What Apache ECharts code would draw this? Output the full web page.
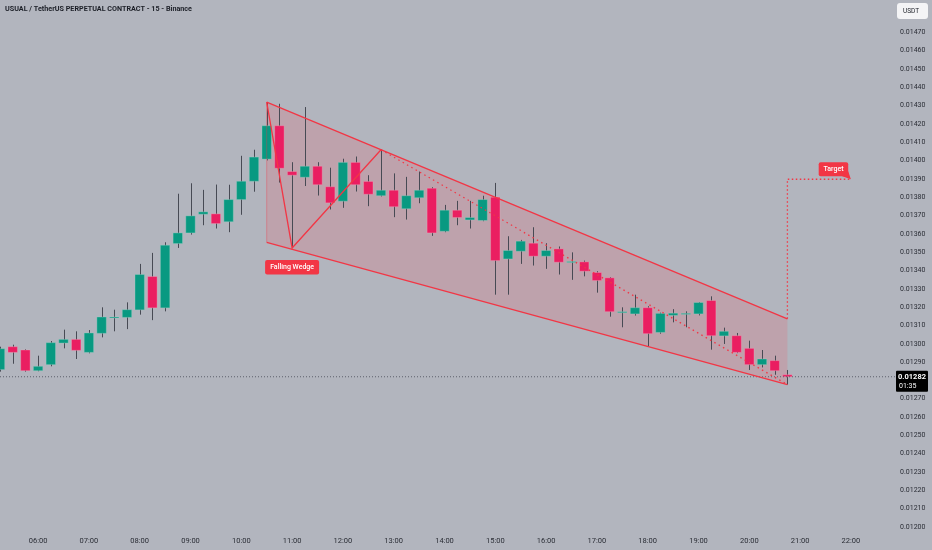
<!DOCTYPE html>
<html><head><meta charset="utf-8">
<script src="https://cdn.jsdelivr.net/npm/echarts@6/dist/echarts.min.js"></script>
<style>html,body{margin:0;padding:0;background:#b2b5be}#c{width:932px;height:550px}</style>
</head><body><div id="c"></div>
<script>
// 15-minute candles, USUAL/USDT perpetual
const times = ['05:15','05:30','05:45',
 '06:00','06:15','06:30','06:45','07:00','07:15','07:30','07:45',
 '08:00','08:15','08:30','08:45','09:00','09:15','09:30','09:45',
 '10:00','10:15','10:30','10:45','11:00','11:15','11:30','11:45',
 '12:00','12:15','12:30','12:45','13:00','13:15','13:30','13:45',
 '14:00','14:15','14:30','14:45','15:00','15:15','15:30','15:45',
 '16:00','16:15','16:30','16:45','17:00','17:15','17:30','17:45',
 '18:00','18:15','18:30','18:45','19:00','19:15','19:30','19:45',
 '20:00','20:15','20:30','20:45','21:00','21:15','21:30','21:45',
 '22:00','22:15','22:30','22:45'];
const opens = [0.012859,0.012984,0.012966,0.012853,0.012886,0.013004,0.013024,0.012953,0.013057,0.013144,
 0.013144,0.013185,0.013367,0.013196,0.013547,0.013605,0.013707,0.013709,0.013666,0.013787,
 0.013887,0.014008,0.014190,0.013940,0.013909,0.013969,0.013857,0.013778,0.013990,0.013886,
 0.013808,0.013838,0.013737,0.013797,0.013849,0.013614,0.013729,0.013676,0.013673,0.013800,
 0.013463,0.013505,0.013549,0.013478,0.013518,0.013447,0.013447,0.013389,0.013360,0.013174,
 0.013163,0.013197,0.013062,0.013155,0.013165,0.013163,0.013236,0.013043,0.013044,0.012975,
 0.012886,0.012908,0.012831];
const closes = [0.012973,0.012953,0.012853,0.012877,0.013006,0.013024,0.012964,0.013059,0.013146,0.013146,
 0.013186,0.013378,0.013196,0.013538,0.013605,0.013698,0.013720,0.013656,0.013787,0.013887,
 0.014019,0.014190,0.013958,0.013920,0.013969,0.013868,0.013769,0.013990,0.013868,0.013816,
 0.013838,0.013748,0.013808,0.013838,0.013605,0.013729,0.013689,0.013689,0.013787,0.013454,
 0.013509,0.013560,0.013478,0.013509,0.013445,0.013449,0.013396,0.013345,0.013175,0.013175,
 0.013197,0.013055,0.013166,0.013167,0.013166,0.013225,0.013044,0.013068,0.012953,0.012886,
 0.012917,0.012853,0.012820];
const highs = [0.012984,0.012995,0.012970,0.012935,0.013015,0.013077,0.013068,0.013075,0.013199,0.013186,
 0.013226,0.013436,0.013496,0.013554,0.013819,0.013876,0.013840,0.013869,0.013868,0.014026,
 0.014059,0.014319,0.014310,0.013991,0.014292,0.013991,0.013961,0.014010,0.014022,0.013920,
 0.014059,0.013930,0.013911,0.013940,0.013855,0.013758,0.013780,0.013780,0.013808,0.013878,
 0.013587,0.013567,0.013636,0.013549,0.013531,0.013499,0.013454,0.013396,0.013364,0.013199,
 0.013268,0.013205,0.013170,0.013189,0.013177,0.013228,0.013259,0.013088,0.013059,0.013017,
 0.012966,0.012935,0.012857];
const lows = [0.012848,0.012891,0.012848,0.012850,0.012877,0.012975,0.012917,0.012948,0.013035,0.013068,
 0.013080,0.013159,0.013129,0.013177,0.013523,0.013596,0.013647,0.013629,0.013609,0.013704,
 0.013830,0.014001,0.013880,0.013523,0.013861,0.013809,0.013733,0.013742,0.013831,0.013751,
 0.013804,0.013691,0.013678,0.013767,0.013589,0.013609,0.013647,0.013629,0.013669,0.013268,
 0.013268,0.013436,0.013427,0.013409,0.013378,0.013349,0.013368,0.013279,0.013148,0.013090,
 0.013154,0.012984,0.013055,0.013117,0.013090,0.013155,0.012968,0.012999,0.012949,0.012857,
 0.012871,0.012831,0.012777];

// drawing anchors [candle index, price]
const wedgeUpper = [[21, 0.014319], [62, 0.013136]];
const wedgeLower = [[21, 0.013554], [62, 0.012777]];
const zigzag = [[21, 0.014319], [23, 0.013523], [30, 0.014059]];
const zigzagDotted = [[30, 0.014059], [62, 0.012777]];
const targetPath = [[62, 0.013136], [62, 0.013898], [67, 0.013898]];
const wedgeLabelAt = [23, 0.013523];
const targetLabelAt = [67, 0.013898];
const lastPrice = 0.01282;
const lastPriceText = '0.01282';
const countdownText = '01:35';

const GREEN = '#089981', RED = '#ea1e61', LINE = '#f23645';
const FONT = 'Roboto, "Noto Sans", sans-serif';

const candleData = opens.map((o, i) => [i, o, closes[i], lows[i], highs[i]]);

function renderCandle(params, api) {
  const i = api.value(0), o = api.value(1), c = api.value(2), l = api.value(3), h = api.value(4);
  const pO = api.coord([i, o]), pC = api.coord([i, c]);
  const pL = api.coord([i, l]), pH = api.coord([i, h]);
  const w = api.size([1, 0])[0] * 0.74;
  const up = c >= o;
  const top = Math.min(pO[1], pC[1]);
  const hgt = Math.max(Math.abs(pO[1] - pC[1]), 1);
  const x = Math.round(pO[0]) + 0.5;
  return {type: 'group', children: [
    {type: 'line', shape: {x1: x, y1: pH[1], x2: x, y2: pL[1]}, style: {stroke: '#474a54', lineWidth: 1}},
    {type: 'rect', shape: {x: pO[0] - w / 2, y: top, width: w, height: hgt},
     style: {fill: up ? GREEN : RED, stroke: up ? 'rgba(160,210,200,0.6)' : 'rgba(240,170,190,0.6)', lineWidth: 0.6}}
  ]};
}

function renderFill(params, api) {
  const pts = [wedgeUpper[0], wedgeUpper[1], wedgeLower[1], wedgeLower[0]].map(d => api.coord(d));
  return {type: 'polygon', shape: {points: pts}, style: {fill: 'rgba(238,90,100,0.2)'}};
}

function renderDrawings(params, api) {
  const P = d => api.coord(d);
  const ch = [];
  const ly = P([0, lastPrice])[1];
  ch.push({type: 'line', shape: {x1: 0, y1: ly, x2: 896, y2: ly},
           style: {stroke: '#5d606b', lineWidth: 1, lineDash: [1, 2]}});
  ch.push({type: 'polyline', shape: {points: wedgeUpper.map(P)}, style: {stroke: LINE, lineWidth: 1.3, fill: null}});
  ch.push({type: 'polyline', shape: {points: wedgeLower.map(P)}, style: {stroke: LINE, lineWidth: 1.3, fill: null}});
  ch.push({type: 'line', shape: {x1: P(wedgeUpper[0])[0], y1: P(wedgeUpper[0])[1], x2: P(wedgeLower[0])[0], y2: P(wedgeLower[0])[1]},
           style: {stroke: 'rgba(242,54,69,0.35)', lineWidth: 1}});
  ch.push({type: 'polyline', shape: {points: zigzag.map(P)}, style: {stroke: LINE, lineWidth: 1.3, fill: null}});
  ch.push({type: 'polyline', shape: {points: zigzagDotted.map(P)}, style: {stroke: LINE, lineWidth: 1.3, lineDash: [1.5, 3.5], fill: null}});
  ch.push({type: 'polyline', shape: {points: targetPath.map(P)}, style: {stroke: LINE, lineWidth: 1.3, lineDash: [1.5, 2.5], fill: null}});
  // Falling Wedge label
  const wl = P(wedgeLabelAt);
  const wbW = 54, wbH = 14.5;
  ch.push({type: 'rect', shape: {x: wl[0] - wbW / 2, y: wl[1] + 12, width: wbW, height: wbH, r: 2}, style: {fill: LINE}});
  ch.push({type: 'text', style: {text: 'Falling Wedge', x: wl[0], y: wl[1] + 12 + wbH / 2, align: 'center', verticalAlign: 'middle',
           fill: '#ffffff', fontSize: 7, fontWeight: 500, fontFamily: FONT}});
  // Target label
  const tl = P(targetLabelAt);
  const tbW = 29.5, tbH = 14;
  const bx = tl[0] - 2.7 - tbW, by = tl[1] - 3 - tbH;
  ch.push({type: 'rect', shape: {x: bx, y: by, width: tbW, height: tbH, r: 2}, style: {fill: LINE}});
  ch.push({type: 'polygon', shape: {points: [[bx + tbW - 6, by + tbH], [bx + tbW, by + tbH - 5], [tl[0], tl[1]]]}, style: {fill: LINE}});
  ch.push({type: 'text', style: {text: 'Target', x: bx + tbW / 2, y: by + tbH / 2, align: 'center', verticalAlign: 'middle',
           fill: '#ffffff', fontSize: 7, fontWeight: 500, fontFamily: FONT}});
  // last price tag
  ch.push({type: 'rect', shape: {x: 896, y: ly - 6, width: 32, height: 21, r: 1}, style: {fill: '#000000'}});
  ch.push({type: 'text', style: {text: lastPriceText, x: 912, y: ly + 0.5, align: 'center', verticalAlign: 'middle',
           fill: '#ffffff', fontSize: 7.5, fontWeight: 'bold', fontFamily: FONT}});
  ch.push({type: 'text', style: {text: countdownText, x: 899, y: ly + 9.5, align: 'left', verticalAlign: 'middle',
           fill: '#ffffff', fontSize: 7, fontFamily: FONT}});
  return {type: 'group', children: ch};
}

const chart = echarts.init(document.getElementById('c'), null, {renderer: 'canvas'});
chart.setOption({
  backgroundColor: '#b2b5be',
  animation: false,
  grid: {left: 0, right: 43, top: 32.3, bottom: 23, containLabel: false},
  graphic: [
    {type: 'text', left: 5, top: 6, style: {text: 'USUAL / TetherUS PERPETUAL CONTRACT - 15 - Binance',
      fill: '#1c1f27', fontSize: 7.2, fontWeight: 'bold', fontFamily: FONT}},
    {type: 'rect', left: 897, top: 3, shape: {width: 31, height: 16, r: 3}, style: {fill: '#f4f4f6'}},
    {type: 'text', left: 903, top: 7.5, style: {text: 'USDT', fill: '#1c1f27', fontSize: 6.5, fontFamily: FONT}}
  ],
  xAxis: {
    type: 'category', data: times, boundaryGap: false,
    axisLine: {show: false}, axisTick: {show: false}, splitLine: {show: false},
    axisLabel: {interval: (idx, val) => val.slice(3) === '00', margin: 10, color: '#2a2d35',
      fontSize: 7.5, fontFamily: FONT}
  },
  yAxis: {
    type: 'value', position: 'right', min: 0.012, max: 0.0147, interval: 0.0001,
    axisLine: {show: false}, axisTick: {show: false}, splitLine: {show: false},
    axisLabel: {margin: 11, color: '#2a2d35', fontSize: 7, fontFamily: FONT, formatter: v => v.toFixed(5)}
  },
  series: [
    {type: 'custom', name: 'wedgeFill', renderItem: renderFill, data: [[21, 0.0135]], z: 1, silent: true},
    {type: 'custom', name: 'candles', renderItem: renderCandle, data: candleData,
     encode: {x: 0, y: [1, 2, 3, 4]}, z: 2},
    {type: 'custom', name: 'drawings', renderItem: renderDrawings, data: [[21, 0.0135]], z: 3, silent: true}
  ]
});
</script></body></html>
